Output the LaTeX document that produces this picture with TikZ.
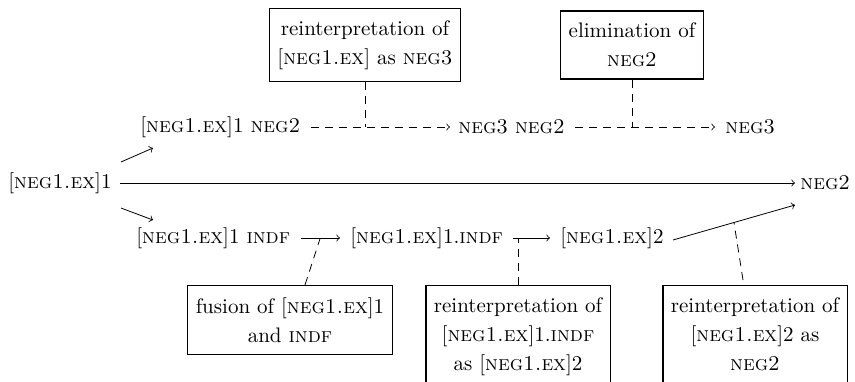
\documentclass[tikz,border=0pt]{standalone}
\usetikzlibrary{calc}
\newcommand{\gl}[1]{\textsc{#1}}
\begin{document}
\begin{tikzpicture}[x=0.5pt,y=-0.5pt,>=to,
  font=\fontsize{10.5}{14.5}\selectfont,
  term/.style={inner sep=0pt,anchor=west},
  note/.style={draw,line width=0.6pt,align=center,inner xsep=4pt,inner ysep=6pt},
  link/.style={dash pattern=on 4pt off 3pt}]
\useasboundingbox (0,0) rectangle (855,381);

% terms
\node[term] (m1) at (8,183)   {[\gl{neg1.ex}]1};
\node[term] (m2) at (800,183) {\gl{neg2}};
\node[term] (t1) at (140,127) {[\gl{neg1.ex}]1 \gl{neg2}};
\node[term] (t2) at (458,127) {\gl{neg3} \gl{neg2}};
\node[term] (t3) at (725,127) {\gl{neg3}};
\node[term] (b1) at (136,238) {[\gl{neg1.ex}]1 \gl{indf}};
\node[term] (b2) at (350,238) {[\gl{neg1.ex}]1.\gl{indf}};
\node[term] (b3) at (560,238) {[\gl{neg1.ex}]2};

% annotations
\node[note] (A) at (365,45) {reinterpretation of\\ {[}\gl{neg1.ex}] as \gl{neg3}};
\node[note] (B) at (632,45) {elimination of\\ \gl{neg2}};
\node[note] (C) at (290,320) {fusion of [\gl{neg1.ex}]1\\ and \gl{indf}};
\node[note,anchor=north] (D) at (518,285) {reinterpretation of\\ {[}\gl{neg1.ex}]1.\gl{indf}\\ as [\gl{neg1.ex}]2};
\node[note,anchor=north] (E) at (755,285) {reinterpretation of\\ {[}\gl{neg1.ex}]2 as\\ \gl{neg2}};

% arrow end points
\coordinate (f1) at ([shift={(10,0)}]b1.east);
\coordinate (f2) at ([shift={(-10,0)}]b2.west);
\coordinate (g1) at ([shift={(9,2)}]b3.east);
\coordinate (g2) at ([shift={(-5,22)}]m2.west);

% solid arrows
\draw[->] ([shift={(8,0)}]m1.east) -- ([shift={(-5,0)}]m2.west);
\draw[->] ([shift={(9,-21)}]m1.east) -- ([shift={(13,21)}]t1.west);
\draw[->] ([shift={(9,25)}]m1.east) -- ([shift={(17,-18)}]b1.west);
\draw[->] (f1) -- (f2);
\draw[->] ([shift={(10,0)}]b2.east) -- ([shift={(-10,0)}]b3.west);
\draw[->] (g1) -- (g2);

% dashed arrows
\draw[->,link] ([shift={(10,0)}]t1.east) -- ([shift={(-8,0)}]t2.west);
\draw[->,link] ([shift={(10,0)}]t2.east) -- ([shift={(-10,0)}]t3.west);

% dashed links to annotations
\draw[link] (A.south) -- (A.south |- t1.east);
\draw[link] (B.south) -- (B.south |- t2.east);
\draw[link] ([shift={(15,0)}]C.north) -- ($(f1)!0.5!(f2)$);
\draw[link] (D.north) -- (D.north |- b2.east);
\draw[link] ([shift={(-12,-5)}]E.north) -- ($(g1)!0.5!(g2)$);
\end{tikzpicture}
\end{document}
